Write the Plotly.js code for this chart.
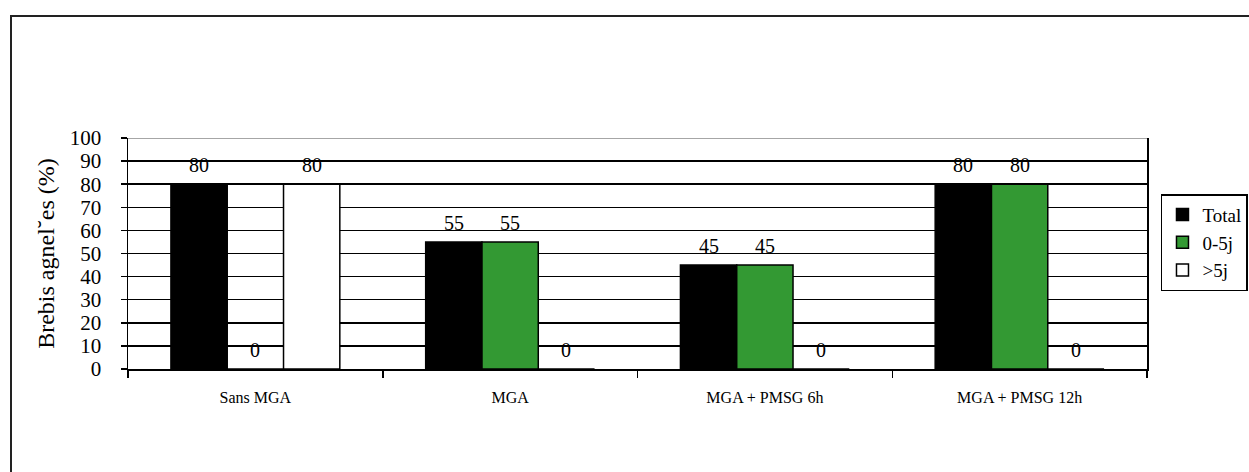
<!DOCTYPE html>
<html>
<head>
<meta charset="utf-8">
<script src="https://cdn.plot.ly/plotly-3.0.1.min.js"></script>
<style>
html,body{margin:0;padding:0;background:#fff;}
#wrap{position:relative;width:1249px;height:472px;overflow:hidden;}
#frame{position:absolute;left:10px;top:15px;width:1300px;height:500px;border-left:2px solid #222;border-top:2px solid #222;pointer-events:none;z-index:5;}
#chart{position:absolute;left:0;top:0;width:1249px;height:472px;}
</style>
</head>
<body>
<div id="wrap"><div id="chart"></div><div id="frame"></div></div>
<script>
const categories = ["Sans MGA", "MGA", "MGA + PMSG 6h", "MGA + PMSG 12h"];
const seriesNames = ["Total", "0-5j", ">5j"];
const totalValues = [80, 55, 45, 80];
const early05Values = [0, 55, 45, 80];
const late5Values = [80, 0, 0, 0];
const yTicks = [0, 10, 20, 30, 40, 50, 60, 70, 80, 90, 100];

const colors = ["#000000", "#339933", "#ffffff"];
const allValues = [totalValues, early05Values, late5Values];
const bargap = 0.337;
const FONT = "Liberation Serif";

const traces = allValues.map((vals, i) => ({
  type: "bar",
  name: seriesNames[i],
  x: categories,
  y: vals,
  marker: {color: colors[i], line: {color: "#000", width: 1.5}},
  hoverinfo: "skip"
}));

const w = (1 - bargap) / 3;
const annotations = [];
allValues.forEach((vals, i) => {
  vals.forEach((v, j) => {
    annotations.push({
      x: j + (i - 1) * w, xref: "x", y: v, yref: "y",
      text: String(v), showarrow: false, yanchor: "bottom", yshift: 6,
      font: {family: FONT, size: 20, color: "#000"}
    });
  });
});

const layout = {
  width: 1249, height: 472,
  margin: {l: 128, r: 102, t: 138, b: 103, autoexpand: false},
  paper_bgcolor: "#fff", plot_bgcolor: "#fff",
  barmode: "group", bargap: bargap, bargroupgap: 0,
  showlegend: true,
  legend: {
    x: 1.0991, y: 0.757, xanchor: "right", yanchor: "top",
    bordercolor: "#000", borderwidth: 1.5, bgcolor: "#fff",
    font: {family: FONT, size: 19, color: "#000"},
    itemwidth: 30, tracegroupgap: 0
  },
  xaxis: {
    type: "category", tickson: "boundaries",
    ticks: "outside", ticklen: 7, tickwidth: 1.5, tickcolor: "#000",
    showline: true, linecolor: "#000", linewidth: 1.5,
    showgrid: false, zeroline: false,
    tickfont: {family: FONT, size: 16, color: "#000"},
    ticklabelstandoff: 13,
    fixedrange: true
  },
  yaxis: {
    range: [0, 100], tickvals: yTicks, ticktext: yTicks.map(String),
    ticks: "outside", ticklen: 6, tickwidth: 1.5, tickcolor: "#000",
    showline: true, linecolor: "#000", linewidth: 1.5, mirror: true,
    showgrid: true, gridcolor: "#000", gridwidth: 1.5, zeroline: false,
    tickfont: {family: FONT, size: 21, color: "#000"},
    ticklabelstandoff: 15,
    title: {text: "Brebis agnel˘es (%)", font: {family: FONT, size: 24, color: "#000"}, standoff: 8},
    fixedrange: true
  },
  annotations: annotations,
  shapes: [{type: "line", xref: "paper", yref: "y", x0: 0, x1: 1, y0: 100, y1: 100, line: {color: "#888", width: 1.5}}]
};

Plotly.newPlot("chart", traces, layout, {displayModeBar: false, staticPlot: true});
</script>
</body>
</html>
